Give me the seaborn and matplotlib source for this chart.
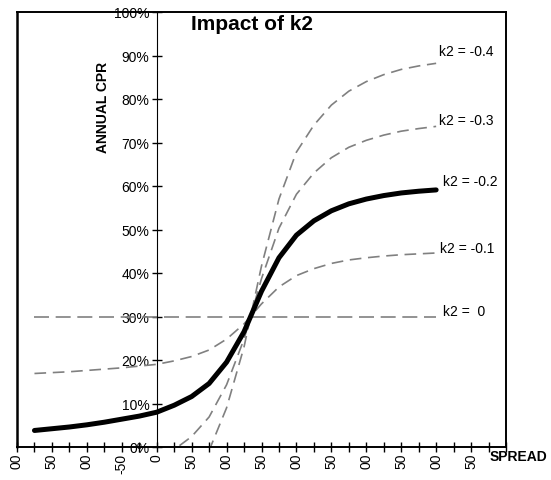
import numpy as np
import pandas as pd
import seaborn as sns
import matplotlib.pyplot as plt

sns.set_style('white')
plt.rcParams['font.family'] = ['Liberation Sans', 'DejaVu Sans']
plt.rcParams['text.color'] = 'black'
plt.rcParams['xtick.color'] = 'black'
plt.rcParams['ytick.color'] = 'black'
plt.rcParams['axes.labelcolor'] = 'black'

# spread (bp) and annual CPR (%)
spread = [-175, -150, -125, -100, -75, -50, -25, 0, 25, 50, 75, 100,
          125, 150, 175, 200, 225, 250, 275, 300, 325, 350, 375, 400]

cpr_k0 = [30.0] * 24
cpr_k01 = [16.9, 17.1, 17.3, 17.6, 17.9, 18.2, 18.6, 19.0, 19.8, 20.8, 22.3, 24.8,
           28.3, 32.9, 36.8, 39.4, 41.0, 42.2, 43.0, 43.5, 43.9, 44.2, 44.4, 44.6]
cpr_k02 = [3.8, 4.2, 4.6, 5.1, 5.7, 6.4, 7.1, 8.0, 9.6, 11.6, 14.6, 19.5,
           26.5, 35.8, 43.5, 48.7, 52.0, 54.3, 55.9, 57.0, 57.8, 58.4, 58.8, 59.1]
cpr_k03 = [-9.3, -8.7, -8.1, -7.4, -6.5, -5.4, -4.4, -3.0, -0.6, 2.4, 6.9, 14.3,
           24.8, 38.7, 50.3, 58.1, 63.0, 66.5, 68.9, 70.5, 71.7, 72.6, 73.2, 73.7]
cpr_k04 = [-22.4, -21.6, -20.8, -19.8, -18.6, -17.2, -15.8, -14.0, -10.8, -6.8, -0.8, 9.0,
           23.0, 41.6, 57.0, 67.8, 74.0, 78.6, 81.8, 84.0, 85.6, 86.8, 87.6, 88.2]

labels = ['k2 = -0.4', 'k2 = -0.3', 'k2 = -0.2', 'k2 = -0.1', 'k2 =  0']
label_y = [91.0, 75.2, 61.1, 45.7, 31.3]
label_x = [404, 404, 410, 406, 410]

xtick_vals = list(range(-200, 525, 25))
xtick_text = ['00', '50', '00', '-50', '0', '50', '00', '50', '00', '50', '00', '50', '00', '50']
ytick_vals = [0, 10, 20, 30, 40, 50, 60, 70, 80, 90, 100]

fig = plt.figure(figsize=(5.51, 4.81), dpi=100)
ax = fig.add_axes([17 / 551, 33 / 481, 489 / 551, 435 / 481])

gray = '#808080'
series = [
    (cpr_k0, gray, 1.2, (9, 4)),
    (cpr_k01, gray, 1.2, (7, 4)),
    (cpr_k03, gray, 1.2, (7, 4)),
    (cpr_k04, gray, 1.2, (7, 4)),
    (cpr_k02, 'black', 3.6, None),
]
for vals, col, lw, dash in series:
    df = pd.DataFrame({'spread': spread, 'cpr': np.array(vals) / 100})
    sns.lineplot(data=df, x='spread', y='cpr', ax=ax, color=col, linewidth=lw, legend=False)
    if dash is not None:
        ax.lines[-1].set_dashes(dash)

for lab, lx, ly in zip(labels, label_x, label_y):
    ax.text(lx, ly / 100, lab, fontsize=10, ha='left', va='center')

ax.set_xlim(-200, 500)
ax.set_ylim(0, 1)

# y axis sits at spread = 0, plus an outer frame
ax.spines['left'].set_position(('data', 0))
ax.spines['left'].set_linewidth(0.8)
for s in ['top', 'right', 'bottom']:
    ax.spines[s].set_linewidth(1.4)
    ax.spines[s].set_color('black')
ax.spines['left'].set_color('black')
ax.plot([0, 0], [0, 1], transform=ax.transAxes, color='black', lw=1.8, clip_on=False)

ax.set_xticks(xtick_vals)
xl = []
for i, v in enumerate(xtick_vals):
    xl.append(xtick_text[i // 2] if (i % 2 == 0 and i // 2 < len(xtick_text)) else '')
ax.set_xticklabels(xl, rotation=90, fontsize=10, va='top')
ax.set_yticks([v / 100 for v in ytick_vals])
ax.set_yticklabels([f'{v}%' for v in ytick_vals], fontsize=10)
ax.tick_params(axis='both', direction='inout', length=6.5, width=1, color='black',
               labelcolor='black', bottom=True, left=True)
ax.tick_params(axis='x', pad=1)
ax.tick_params(axis='y', pad=2)
ax.set_xlabel('')
ax.set_ylabel('')

fig.text(252 / 551, 1 - 25 / 481, 'Impact of k2', fontsize=15, fontweight='bold',
         ha='center', va='center', color='black')
fig.text(103 / 551, 1 - 107 / 481, 'ANNUAL CPR', fontsize=10, fontweight='bold',
         rotation=90, ha='center', va='center', color='black')
fig.text(490 / 551, 1 - 457 / 481, 'SPREAD', fontsize=10, fontweight='bold',
         ha='left', va='center', color='black')

fig.savefig('out.png', dpi=100)
